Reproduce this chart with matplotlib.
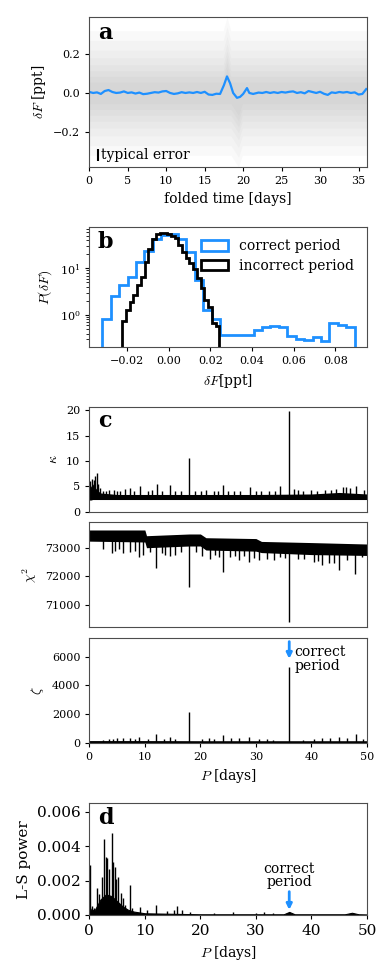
import numpy as np
import matplotlib.pyplot as plt

# ---- data ----
BLUE = '#1e90ff'
correct_period = 36.0

# panel a: folded light curve, running median (ppt)
fold_t = [0, 0.5, 1, 1.5, 2, 2.5, 3, 3.5, 4, 4.5, 5, 5.5, 6, 6.5, 7, 7.5, 8, 8.5,
          9, 9.5, 10, 10.5, 11, 11.5, 12, 12.5, 13, 13.5, 14, 14.5, 15, 15.5,
          16, 16.5, 17, 17.5, 17.9, 18.3, 18.7, 19.2, 19.6, 20, 20.5, 20.8,
          21.3, 22, 22.5, 23, 23.5, 24, 24.5, 25, 25.5, 26, 26.5, 27, 27.5,
          28, 28.5, 29, 29.5, 30, 30.5, 31, 31.5, 32, 32.5, 33, 33.5, 34,
          34.5, 35, 35.5, 36]
fold_med = [0.005, 0.0, 0.003, -0.005, 0.01, 0.015, 0.005, 0.0, 0.002, 0.008,
            0.0, 0.003, -0.003, 0.002, -0.006, -0.004, 0.0, 0.004, 0.002, 0.008,
            0.01, 0.0, -0.005, -0.002, 0.004, 0.0, 0.003, 0.0, 0.005, 0.0,
            0.006, -0.008, -0.01, -0.004, -0.005, 0.04, 0.085, 0.05, 0.0,
            -0.025, -0.02, -0.005, 0.025, 0.0, -0.005, 0.002, 0.0, 0.005, 0.0,
            0.004, 0.0, 0.005, 0.002, 0.006, 0.008, 0.0, 0.004, -0.002, 0.01,
            0.005, 0.0, 0.006, -0.004, -0.01, 0.003, 0.0, 0.005, 0.002, 0.005,
            0.0, 0.003, -0.008, -0.005, 0.02]
# scatter cloud: half widths of the density layers and local distortions
cloud_t = [0, 17.4, 17.9, 18.4, 18.9, 19.4, 19.9, 36.1]
cloud_up = [0, 0, 0.07, 0, 0, 0, 0, 0]
cloud_dn = [0, 0, 0, 0, -0.03, -0.06, 0, 0]
cloud_w = [0.32, 0.27, 0.22, 0.18, 0.145, 0.115, 0.085, 0.055]

# panel b: histograms of residuals
blue_edges = np.linspace(-0.032, 0.0893, 31)
blue_pdf = [0.82, 2.55, 4.3, 6.6, 13.5, 23, 42, 52, 54, 42, 22, 5.5, 1.3, 0.8,
            0.37, 0.37, 0.37, 0.38, 0.48, 0.54, 0.57, 0.55, 0.35, 0.31, 0.29,
            0.34, 0.27, 0.66, 0.6, 0.55]
black_edges = np.linspace(-0.0225, 0.0243, 27)
black_pdf = [0.75, 1.28, 1.93, 2.68, 4.4, 6.6, 13.8, 25.5, 41.8, 54, 58, 58,
             55, 50, 44, 31.5, 22.7, 16.4, 12.8, 9.5, 6.1, 3.7, 2.1, 1.5, 0.66,
             0.58]

# panel c: kappa
kap_x = [0, 0.3, 0.6, 1.0, 1.5, 2, 5, 10, 20, 30, 40, 45, 50]
kap_lo = [2.3, 2.3, 2.4, 2.4, 2.4, 2.4, 2.4, 2.4, 2.4, 2.4, 2.4, 2.4, 2.4]
kap_hi = [4.5, 5.0, 5.5, 4.8, 4.2, 3.7, 3.4, 3.4, 3.4, 3.4, 3.5, 3.8, 3.5]
kap_px = [0.2, 0.5, 0.8, 1.0, 1.3, 1.6, 1.9, 2.5, 3.0, 3.6, 4.4, 5.0, 5.6,
          6.5, 7.3, 8.0, 9.1, 10.5, 11.2, 12.1, 13.0, 14.6, 15.5, 16.5, 18.0,
          19.0, 20.2, 21.0, 22.5, 23.2, 24.0, 25.0, 26.0, 27.2, 28.9, 30.0,
          31.0, 32.3, 33.5, 34.4, 36.0, 36.8, 37.5, 38.5, 40.0, 41.0, 42.5,
          43.5, 44.5, 45.6, 46.2, 47.0, 48.0, 49.5]
kap_pk = [6.0, 6.5, 6.3, 7.0, 7.6, 5.5, 4.6, 4.1, 4.0, 4.2, 4.2, 4.0, 4.0,
          4.4, 4.7, 4.0, 5.1, 4.0, 4.2, 5.5, 4.0, 5.2, 4.1, 4.0, 10.5,
          4.0, 4.1, 4.2, 4.0, 4.1, 5.2, 4.0, 4.1, 4.0, 4.9, 4.0,
          4.0, 4.1, 4.0, 5.1, 19.8, 4.4, 4.3, 4.0, 4.2, 4.1, 4.3,
          4.2, 4.5, 4.8, 4.8, 4.7, 5.1, 4.2]

# panel c: chi^2
chi_x = [0, 10, 10.3, 18, 20, 21, 30, 31, 40, 50]
chi_hi = [73620, 73620, 73420, 73480, 73480, 73350, 73320, 73220, 73180, 73130]
chi_lo = [73230, 73200, 73000, 73060, 73060, 72920, 72880, 72830, 72760, 72730]
chi_px = [2.5, 4.0, 4.6, 5.3, 6.1, 7.3, 8.2, 9.0, 9.7, 11.0, 12.0, 13.0,
          13.6, 14.5, 15.5, 16.5, 18.0, 19.3, 20.3, 21.8, 22.6, 23.3, 24.0,
          25.4, 26.2, 26.9, 27.8, 28.7, 29.6, 30.5, 32.0, 33.2, 34.4, 35.2,
          36.0, 37.5, 38.7, 40.4, 41.2, 41.9, 43.1, 44.0, 44.9, 46.4, 47.9,
          49.1]
chi_pk = [72950, 72830, 72900, 72950, 72830, 72850, 72900, 72690, 72750,
          72850, 72280, 72800, 72750, 72700, 72750, 72850, 71640, 72850,
          72700, 72600, 72750, 72680, 72160, 72680, 72700, 72570, 72700,
          72510, 72650, 72570, 72620, 72570, 72680, 72650, 70390, 72600,
          72600, 72510, 72550, 72400, 72450, 72470, 72220, 72570, 72080,
          72680]

# panel c: zeta
zet_x = [0, 10, 20, 30, 40, 50]
zet_lo = [0, 0, 0, 0, 0, 0]
zet_hi = [110, 110, 100, 100, 100, 100]
zet_px = [2.5, 3.5, 4.3, 5.0, 6.0, 7.3, 8.2, 9.0, 10.5, 12.0, 13.5, 14.5,
          15.5, 18.0, 20.3, 21.5, 22.5, 24.0, 25.6, 27.0, 28.7, 30.5, 32.0,
          33.0, 36.0, 38.5, 40.4, 41.9, 43.4, 44.9, 46.4, 48.0, 49.3]
zet_pk = [200, 250, 230, 300, 330, 330, 250, 420, 250, 600, 250, 370, 250,
          2160, 280, 330, 250, 560, 300, 330, 370, 250, 230, 200, 5300, 200,
          280, 300, 330, 370, 330, 630, 250]

# panel d: Lomb-Scargle periodogram
ls_x = [0, 0.3, 1, 1.5, 2, 3, 4, 5, 6, 7, 8, 10, 15, 20, 35, 36, 37, 46,
        47.3, 48.5, 50]
ls_env = [0.0005, 0.0003, 0.0003, 0.0006, 0.0009, 0.0012, 0.0011, 0.0008,
          0.0005, 0.0003, 0.0002, 0.0001, 0.00007, 0.00004, 0.00004, 0.00018,
          0.00004, 0.00004, 0.00013, 0.00004, 0.00003]
ls_px = [0.05, 0.5, 0.9, 1.4, 1.8, 2.2, 2.6, 2.95, 3.2, 3.5, 4.0, 4.3, 4.6,
         4.8, 5.2, 5.7, 6.0, 6.5, 7.3, 7.7, 9.2, 10.4, 12.0, 14.0, 15.2, 15.8,
         16.7, 18.1, 22.5, 25.9, 30.0, 31.5, 33.0]
ls_pk = [0.0029, 0.0005, 0.0004, 0.0016, 0.0012, 0.0022, 0.0044, 0.0034,
         0.0033, 0.0027, 0.0048, 0.0031, 0.0028, 0.0021, 0.0022, 0.0013,
         0.0010, 0.0006, 0.00175, 0.0004, 0.00045, 0.0003, 0.0006, 0.00025,
         0.0003, 0.0005, 0.0003, 0.0002, 0.00012, 0.0002, 0.00012, 0.00015,
         0.00012]

# ---- styling ----
plt.rcParams['font.family'] = 'DejaVu Serif'
plt.rcParams['mathtext.fontset'] = 'cm'
plt.rcParams['font.size'] = 10
plt.rcParams['xtick.labelsize'] = 8
plt.rcParams['ytick.labelsize'] = 8
plt.rcParams['axes.edgecolor'] = '0.3'
plt.rcParams['xtick.major.size'] = 3
plt.rcParams['ytick.major.size'] = 3


def panel(rect, letter=None):
    ax = fig.add_axes(rect)
    if letter is not None:
        ax.text(0.03, 0.965, letter, transform=ax.transAxes, va='top',
                ha='left', fontsize=16, fontweight='bold')
    return ax


fig = plt.figure(figsize=(3.9, 9.76), dpi=100)

# a
ax = panel([0.229, 0.8289, 0.712, 0.1537], 'a')
ct = np.array(cloud_t)
for w in cloud_w:
    ax.fill_between(ct, -w + np.array(cloud_dn), w + np.array(cloud_up),
                    color='0.5', alpha=0.045, lw=0)
ax.plot(fold_t, fold_med, color=BLUE, lw=1.6)
ax.errorbar([1.1], [-0.318], yerr=[0.029], fmt='none', ecolor='k', lw=1.5)
ax.text(1.5, -0.318, 'typical error', va='center', ha='left', fontsize=10)
ax.set_xlim(0, 36.1)
ax.set_ylim(-0.38, 0.39)
ax.set_xticks([0, 5, 10, 15, 20, 25, 30, 35])
ax.set_yticks([-0.2, 0.0, 0.2])
ax.set_xlabel('folded time [days]')
ax.set_ylabel(r'$\delta F$ [ppt]')

# b
ax = panel([0.229, 0.6445, 0.712, 0.1230], 'b')
bc = 0.5 * (blue_edges[1:] + blue_edges[:-1])
kc = 0.5 * (black_edges[1:] + black_edges[:-1])
ax.hist(bc, bins=blue_edges, weights=blue_pdf, histtype='step', color=BLUE,
        lw=2, label='correct period', log=True)
ax.hist(kc, bins=black_edges, weights=black_pdf, histtype='step', color='k',
        lw=2, label='incorrect period', log=True)
ax.set_yscale('log')
ax.set_xlim(-0.0383, 0.0953)
ax.set_ylim(0.206, 77)
ax.set_xticks([-0.02, 0.0, 0.02, 0.04, 0.06, 0.08])
ax.set_xlabel(r'$\delta F$[ppt]')
ax.set_ylabel(r'$P(\delta F)$')
ax.legend(loc='upper right', frameon=False, fontsize=10, handlelength=2.0,
          handleheight=0.77, labelspacing=0.4)

# c (three stacked)
ax = panel([0.229, 0.4757, 0.712, 0.1076], 'c')
ax.fill_between(kap_x, kap_lo, kap_hi, color='k', lw=0)
ax.vlines(kap_px, 3.0, kap_pk, color='k', lw=1.0)
ax.set_xlim(0, 50)
ax.set_ylim(0, 20.7)
ax.set_yticks([0, 5, 10, 15, 20])
ax.tick_params(bottom=False, labelbottom=False)
ax.set_ylabel(r'$\kappa$')

ax = panel([0.229, 0.3573, 0.712, 0.1076])
ax.fill_between(chi_x, chi_lo, chi_hi, color='k', lw=0)
ax.vlines(chi_px, np.interp(chi_px, chi_x, chi_lo) + 100, chi_pk, color='k',
          lw=1.0)
ax.set_xlim(0, 50)
ax.set_ylim(70220, 73890)
ax.set_yticks([71000, 72000, 73000])
ax.tick_params(bottom=False, labelbottom=False)
ax.set_ylabel(r'$\chi^2$')

ax = panel([0.229, 0.2390, 0.712, 0.1070])
ax.fill_between(zet_x, zet_lo, zet_hi, color='k', lw=0.8)
ax.vlines(zet_px, 0, zet_pk, color='k', lw=1.0)
ax.annotate('', xy=(correct_period, 5850), xytext=(correct_period, 7050),
            arrowprops=dict(arrowstyle='-|>', color=BLUE, lw=2,
                            mutation_scale=8, shrinkA=0, shrinkB=0))
ax.text(correct_period + 0.9, 5850, 'correct\nperiod', ha='left',
        va='center', fontsize=10, linespacing=0.95)
ax.set_xlim(0, 50)
ax.set_ylim(0, 7280)
ax.set_yticks([0, 2000, 4000, 6000])
ax.set_xticks([0, 10, 20, 30, 40, 50])
ax.set_xlabel(r'$P$ [days]')
ax.set_ylabel(r'$\zeta$')

# d
ax = panel([0.229, 0.0625, 0.712, 0.1144], 'd')
ax.fill_between(ls_x, 0, ls_env, color='k', lw=0.8)
ax.vlines(ls_px, 0, ls_pk, color='k', lw=1.0)
ax.annotate('', xy=(correct_period, 0.0003), xytext=(correct_period, 0.00136),
            arrowprops=dict(arrowstyle='-|>', color=BLUE, lw=2,
                            mutation_scale=8, shrinkA=0, shrinkB=0))
ax.text(correct_period, 0.0023, 'correct\nperiod', ha='center', va='center',
        fontsize=10, linespacing=0.95)
ax.set_xlim(0, 50)
ax.set_ylim(0, 0.0065)
ax.set_yticks([0.0, 0.002, 0.004, 0.006])
ax.set_yticklabels(['%.3f' % v for v in [0.0, 0.002, 0.004, 0.006]])
ax.set_xticks([0, 10, 20, 30, 40, 50])
ax.tick_params(labelsize=11)
ax.set_xlabel(r'$P$ [days]')
ax.set_ylabel('L-S power', fontsize=11)

fig.savefig('out.png', dpi=100)
